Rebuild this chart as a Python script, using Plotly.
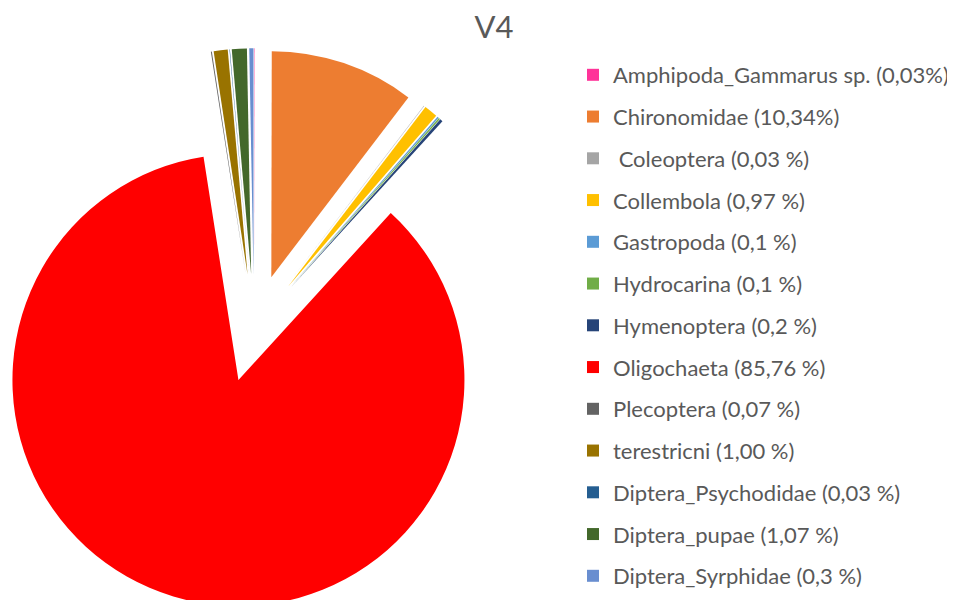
import math
import plotly.graph_objects as go

# ---- data ----
categories = ["Amphipoda_Gammarus sp.", "Chironomidae", "Coleoptera", "Collembola",
              "Gastropoda", "Hydrocarina", "Hymenoptera", "Oligochaeta", "Plecoptera",
              "terestricni", "Diptera_Psychodidae", "Diptera_pupae", "Diptera_Syrphidae"]
values = [0.03, 10.34, 0.03, 0.97, 0.1, 0.1, 0.2, 85.76, 0.07, 1.00, 0.03, 1.07, 0.3]
legend_labels = ["Amphipoda_Gammarus sp. (0,03%)", "Chironomidae (10,34%)", " Coleoptera (0,03 %)",
                 "Collembola (0,97 %)", "Gastropoda (0,1 %)", "Hydrocarina (0,1 %)",
                 "Hymenoptera (0,2 %)", "Oligochaeta (85,76 %)", "Plecoptera (0,07 %)",
                 "terestricni (1,00 %)", "Diptera_Psychodidae (0,03 %)", "Diptera_pupae (1,07 %)",
                 "Diptera_Syrphidae (0,3 %)"]
colors = ["#FF3399", "#ED7D31", "#A5A5A5", "#FFC000", "#5B9BD5", "#70AD47", "#264478",
          "#FF0000", "#636363", "#997300", "#255E91", "#43682B", "#698ED0"]

# ---- layout constants (figure pixel coordinates) ----
W, H = 955, 600
R = 226             # pie radius (px)
EXPLODE = 54        # explosion distance of every slice (px)
CX0, CY0 = 246, 320.3   # un-exploded pie centre (px)
TRANSPARENT = "rgba(0,0,0,0)"

fig = go.Figure()

# legend holders (tiny pies hidden under the big slice, one group per entry)
for i, lab in enumerate(legend_labels):
    fig.add_trace(go.Pie(
        values=[values[i]], labels=[lab], marker=dict(colors=[colors[i]], line=dict(width=0)),
        textinfo="none", hoverinfo="skip", sort=False, legendgroup=f"g{i}", showlegend=True,
        domain=dict(x=[150 / W, 154 / W], y=[1 - 472 / H, 1 - 468 / H]),
    ))

# exploded slices: each slice drawn by its own pie, centre offset along its bisector
total = sum(values)
cum = 0.0
for i, v in enumerate(values):
    a0 = cum / total * 360.0
    cum += v
    a1 = cum / total * 360.0
    mid = math.radians((a0 + a1) / 2)
    cx = CX0 + EXPLODE * math.sin(mid)
    cy = CY0 - EXPLODE * math.cos(mid)
    x0, x1 = max(0, (cx - R) / W), min(1, (cx + R) / W)
    y0, y1 = max(0, 1 - (cy + R) / H), min(1, 1 - (cy - R) / H)
    fig.add_trace(go.Pie(
        values=values, labels=legend_labels, sort=False, direction="clockwise", rotation=0,
        marker=dict(colors=[c if j == i else TRANSPARENT for j, c in enumerate(colors)],
                    line=dict(width=0)),
        textinfo="none", hoverinfo="skip", showlegend=False,
        domain=dict(x=[x0, x1], y=[y0, y1]),
    ))

fig.update_layout(
    width=W, height=H,
    margin=dict(l=0, r=0, t=0, b=0),
    paper_bgcolor="white", plot_bgcolor="white",
    title=dict(text="V4", x=486 / W, xanchor="center", y=1 - 19 / H, yanchor="middle",
               font=dict(family="Lato", size=31, color="#595959")),
    legend=dict(x=565 / W, y=1 - 46 / H, xanchor="left", yanchor="top",
                font=dict(family="Lato", size=22, color="#595959"),
                traceorder="grouped", tracegroupgap=10.15, bgcolor="rgba(0,0,0,0)"),
)

fig.write_html("out.html")
